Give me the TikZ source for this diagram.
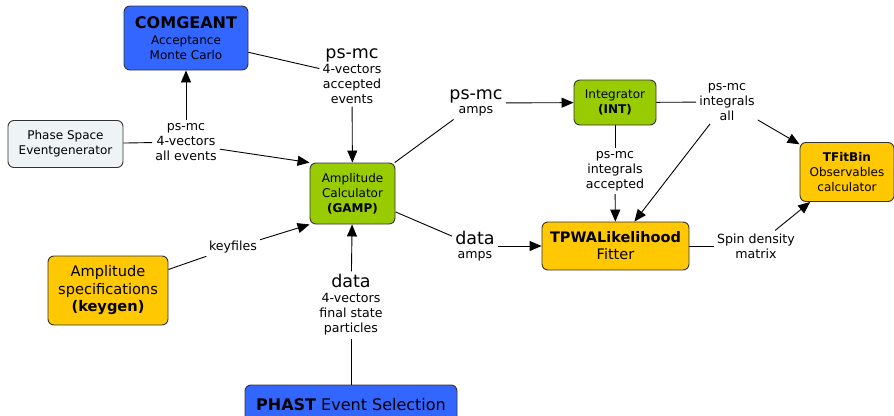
\documentclass[tikz,border=0pt]{standalone}
\usepackage{fontspec}
\setmainfont{DejaVu Sans}
\usetikzlibrary{arrows.meta}
\definecolor{cblue}{HTML}{3366FF}
\definecolor{cgreen}{HTML}{99CC00}
\definecolor{corange}{HTML}{FFC800}
\definecolor{cpale}{HTML}{EEF3F5}
\definecolor{cborder}{HTML}{333333}
\newcommand\fsA{\fontsize{12}{15}\selectfont}
\newcommand\fsL{\fontsize{12.6}{15}\selectfont}
\newcommand\fsB{\fontsize{16}{17}\selectfont}
\newcommand\fsBig{\fontsize{17.5}{18}\selectfont}
\newcommand\fsC{\fontsize{14.6}{17.5}\selectfont}
\begin{document}
\begin{tikzpicture}[x=1pt,y=-1pt,
  box/.style={draw=cborder, line width=0.9pt, rounded corners=6pt, align=center, inner sep=0pt, font=\fsA},
  lbl/.style={align=center, inner sep=3pt, font=\fsL},
  ln/.style={line width=0.9pt, black},
  arr/.style={ln, -{Triangle[length=12pt,width=10pt]}},
]
\useasboundingbox (0,0) rectangle (894,415);
% boxes
\node[box, fill=cblue, minimum width=124pt, minimum height=64pt] (com) at (186,38)
  {{\fsB\bfseries COMGEANT}\\[1pt]{Acceptance}\\{Monte Carlo}};
\node[box, fill=cpale, minimum width=115pt, minimum height=47pt] (phase) at (65.5,144)
  {Phase Space\\Eventgenerator};
\node[box, fill=cgreen, minimum width=85pt, minimum height=61pt] (gamp) at (352.5,193.5)
  {Amplitude\\Calculator\\\textbf{(GAMP)}};
\node[box, fill=cgreen, minimum width=82pt, minimum height=45pt] (int) at (615,102.5)
  {Integrator\\\textbf{(INT)}};
\node[box, fill=corange, minimum width=94pt, minimum height=59pt] (tfit) at (847,172)
  {\textbf{TFitBin}\\Observables\\calculator};
\node[box, fill=corange, minimum width=147pt, minimum height=48pt, font=\fontsize{14.5}{17}\selectfont] (tpwa) at (615.5,246)
  {\textbf{TPWALikelihood}\\Fitter};
\node[box, fill=corange, minimum width=120pt, minimum height=69pt, font=\fsC] (keygen) at (108,290.5)
  {Amplitude\\specifications\\\textbf{(keygen)}};
\node[box, fill=cblue, minimum width=212pt, minimum height=40pt, font=\fsB] (phast) at (351,405)
  {\textbf{PHAST} Event Selection};
% labels
\node[lbl] (l1) at (352,76) {{\fsBig ps-mc}\\4-vectors\\accepted\\events};
\node[lbl] (l2) at (186,142) {ps-mc\\4-vectors\\all events};
\node[lbl] (l3) at (476,103) {{\fsBig ps-mc}\\[-1pt]amps};
\node[lbl] (l4) at (727,102) {ps-mc\\integrals\\all};
\node[lbl] (l5) at (615,171) {ps-mc\\integrals\\accepted};
\node[lbl] (l6) at (475,246) {{\fsBig data}\\[-1pt]amps};
\node[lbl] (l7) at (756,246) {Spin density\\matrix};
\node[lbl] (l8) at (233,247) {keyfiles};
\node[lbl] (l9) at (351,305) {{\fsBig data}\\4-vectors\\final state\\particles};
% connectors
\draw[ln] (com) -- (l1);
\draw[arr] (l1) -- (gamp);
\draw[ln] (phase) -- (l2);
\draw[arr] (l2) -- (com);
\draw[arr] (l2.-12) -- (gamp.north west);
\draw[ln] (gamp) -- (l3);
\draw[arr] (l3) -- (int);
\draw[ln] (int) -- (l4);
\draw[arr] (l4) -- (tfit);
\draw[arr] (l4) -- (tpwa);
\draw[ln] (int) -- (l5);
\draw[arr] (l5) -- (tpwa);
\draw[ln] (gamp) -- (l6);
\draw[arr] (l6) -- (tpwa);
\draw[ln] (tpwa) -- (l7);
\draw[arr] (l7) -- (tfit);
\draw[ln] (keygen) -- (l8);
\draw[arr] (l8.15) -- (gamp.south west);
\draw[ln] (phast) -- (l9);
\draw[arr] (l9) -- (gamp);
\end{tikzpicture}
\end{document}
